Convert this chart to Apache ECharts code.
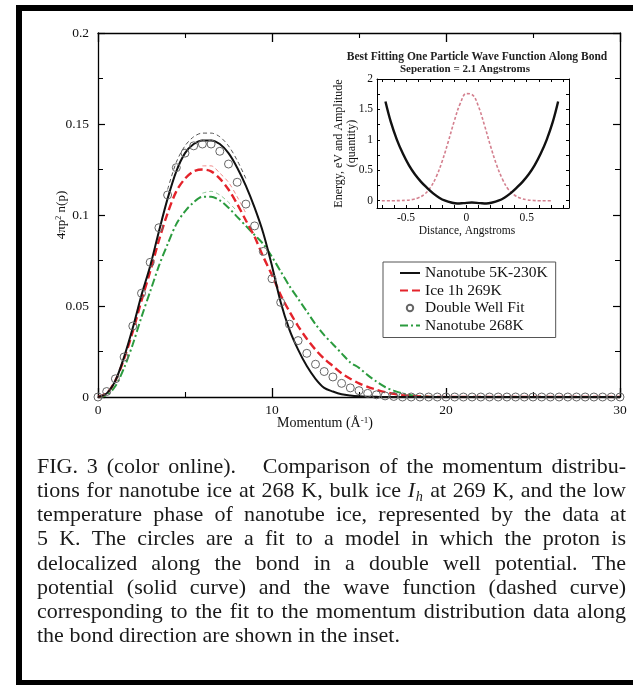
<!DOCTYPE html>
<html><head><meta charset="utf-8">
<script src="https://cdn.jsdelivr.net/npm/echarts@6/dist/echarts.min.js"></script>
<style>html,body{margin:0;padding:0;background:#fff}#c{width:633px;height:685px}</style>
</head><body><div id="c"></div><script>
// ---------- main plot data ----------
const momentum = [
  0,0.5,1,1.5,2,2.5,3,3.5,4,4.5,
  5,5.5,6,6.5,7,7.5,8,8.5,9,9.5,
  10,10.5,11,11.5,12,12.5,13,13.5,14,14.5,
  15,15.5,16,16.5,17,17.5,18,18.5,19,19.5,
  20,20.5,21,21.5,22,22.5,23,23.5,24,24.5,
  25,25.5,26,26.5,27,27.5,28,28.5,29,29.5,
  30];
const nanotubeLow = [
  0,0.002,0.009,0.022,0.038,0.056,0.072,0.091,0.109,0.124,
  0.134,0.139,0.141,0.141,0.139,0.134,0.126,0.116,0.104,0.090,
  0.072,0.052,0.037,0.026,0.017,0.010,0.005,0.003,0.0015,0.0008,
  0.0004,0.0002,0.0001,0,0,0,0,0,0,0,
  0,0,0,0,0,0,0,0,0,0,
  0,0,0,0,0,0,0,0,0,0,
  0];
const doubleWellFit = [
  0,0.003,0.010,0.022,0.039,0.057,0.074,0.093,0.111,0.126,
  0.134,0.138,0.139,0.139,0.135,0.128,0.118,0.106,0.094,0.080,
  0.065,0.052,0.040,0.031,0.024,0.018,0.014,0.011,0.0075,0.005,
  0.0035,0.002,0.0012,0.0006,0.0003,0,0,0,0,0,
  0,0,0,0,0,0,0,0,0,0,
  0,0,0,0,0,0,0,0,0,0,
  0];
const iceIh = [
  0,0.002,0.009,0.021,0.036,0.053,0.069,0.086,0.101,0.113,
  0.120,0.124,0.125,0.124,0.120,0.114,0.106,0.097,0.088,0.077,
  0.067,0.056,0.047,0.039,0.032,0.026,0.021,0.017,0.013,0.010,
  0.0075,0.0055,0.004,0.0027,0.0017,0.001,0.0006,0.0003,0.0001,0,
  0,0,0,0,0,0,0,0,0,0,
  0,0,0,0,0,0,0,0,0,0,
  0];
const nanotube268 = [
  0,0.001,0.006,0.016,0.029,0.044,0.058,0.072,0.084,0.095,
  0.102,0.107,0.110,0.110,0.108,0.104,0.099,0.094,0.089,0.084,
  0.077,0.069,0.061,0.054,0.047,0.040,0.034,0.029,0.024,0.019,
  0.016,0.012,0.0085,0.0055,0.0035,0.002,0.001,0.0005,0.0002,0,
  0,0,0,0,0,0,0,0,0,0,
  0,0,0,0,0,0,0,0,0,0,
  0];
// faint error-band traces near the peaks
const blackBandP = [4,4.5,5,5.5,6,6.5,7,7.5,8,8.5];
const blackBand  = [0.114,0.129,0.138,0.143,0.145,0.145,0.143,0.138,0.130,0.120];
const redBandP   = [6,6.5,7,7.5,8,8.5];
const redBand    = [0.127,0.127,0.123,0.118,0.110,0.101];
const greenBandP = [6,6.5,7,7.5,8];
const greenBand  = [0.112,0.113,0.111,0.107,0.102];

const xTicksMain = [0,10,20,30];
const yTicksMain = [0,0.05,0.1,0.15,0.2];

// ---------- inset data ----------
const potentialX = [-0.67,-0.625,-0.575,-0.525,-0.475,-0.425,-0.375,-0.325,-0.275,-0.225,-0.175,-0.125,-0.075,-0.025,
  0.045,0.115,0.165,0.215,0.265,0.315,0.365,0.415,0.465,0.515,0.565,0.615,0.665,0.715,0.76];
const potentialV = [1.63,1.29,1.0,0.77,0.58,0.43,0.31,0.21,0.12,0.05,0.0,-0.03,-0.045,-0.04,
  -0.03,-0.04,-0.045,-0.03,0.0,0.05,0.12,0.21,0.31,0.43,0.58,0.77,1.0,1.29,1.63];
const waveX = [-0.7,-0.65,-0.6,-0.55,-0.5,-0.45,-0.4,-0.35,-0.3,-0.25,-0.2,-0.15,-0.1,-0.05,0,
  0.05,0.1,0.15,0.2,0.25,0.3,0.35,0.4,0.45,0.5,0.55,0.6,0.65,0.7];
const waveV = [0,0,0,0.002,0.006,0.018,0.045,0.10,0.21,0.39,0.65,0.97,1.31,1.60,1.76,
  1.74,1.55,1.24,0.90,0.59,0.35,0.18,0.09,0.04,0.015,0.005,0,0,0];
const insetXLabels = [-0.5,0,0.5];
const insetXTicks = [-0.7,-0.6,-0.5,-0.4,-0.3,-0.2,-0.1,0,0.1,0.2,0.3,0.4,0.5,0.6,0.7,0.8];
const insetYLabels = [0,0.5,1,1.5,2];
const insetYTicks = [0,0.25,0.5,0.75,1,1.25,1.5,1.75,2];

const legendNames = ['Nanotube 5K-230K','Ice 1h 269K','Double Well Fit','Nanotube 268K'];

const captionLines = [
  'FIG. 3 (color online).   Comparison of the momentum distribu-',
  'tions for nanotube ice at 268 K, bulk ice {Ih} at 269 K, and the low',
  'temperature phase of nanotube ice, represented by the data at',
  '5 K. The circles are a fit to a model in which the proton is',
  'delocalized along the bond in a double well potential. The',
  'potential (solid curve) and the wave function (dashed curve)',
  'corresponding to the fit to the momentum distribution data along',
  'the bond direction are shown in the inset.'
];

// ---------- build ----------
const serif = '"Liberation Serif", "Times New Roman", serif';
const zip = (xs, ys) => xs.map((x, i) => [x, ys[i]]);
const black = '#000';

function frameAxis(extra) {
  return Object.assign({
    type: 'value',
    nameMoveOverlap: false,
    splitLine: {show: false},
    minorSplitLine: {show: false},
    axisLine: {show: true, onZero: false, lineStyle: {color: black, width: 1.3}},
  }, extra);
}

const mainX = frameAxis({
  gridIndex: 0, position: 'bottom', min: 0, max: 30, interval: 10,
  axisTick: {show: true, inside: true, length: 9, lineStyle: {color: black, width: 1.3}},
  minorTick: {show: true, splitNumber: 2, length: 5, lineStyle: {color: black, width: 1.1}},
  axisLabel: {margin: 6, fontFamily: serif, fontSize: 13.5, color: '#111'},
  name: 'Momentum (Å{sup|-1})', nameLocation: 'middle', nameGap: 19,
  nameTextStyle: {fontFamily: serif, fontSize: 14, color: '#111', padding: [0, 68, 0, 0],
    rich: {sup: {fontFamily: serif, fontSize: 9, color: '#111', verticalAlign: 'top'}}}
});
const mainXTop = frameAxis({
  gridIndex: 0, position: 'top', min: 0, max: 30, interval: 10,
  axisTick: {show: true, inside: true, length: 9, lineStyle: {color: black, width: 1.3}},
  minorTick: {show: true, splitNumber: 2, length: 5, lineStyle: {color: black, width: 1.1}},
  axisLabel: {show: false}
});
const mainY = frameAxis({
  gridIndex: 0, position: 'left', min: 0, max: 0.2, interval: 0.05,
  axisTick: {show: true, inside: true, length: 7, lineStyle: {color: black, width: 1.2}},
  minorTick: {show: true, splitNumber: 2, length: 5, lineStyle: {color: black, width: 1}},
  axisLabel: {margin: 9, fontFamily: serif, fontSize: 13.5, color: '#111'},
  name: '4πp{sup|2} n(p)', nameLocation: 'middle', nameGap: 30, nameRotate: 90,
  nameTextStyle: {fontFamily: serif, fontSize: 13, color: '#111',
    rich: {sup: {fontFamily: serif, fontSize: 8, color: '#111', verticalAlign: 'top'}}}
});
const mainYRight = frameAxis({
  gridIndex: 0, position: 'right', min: 0, max: 0.2, interval: 0.05,
  axisTick: {show: true, inside: true, length: 7, lineStyle: {color: black, width: 1.2}},
  minorTick: {show: true, splitNumber: 2, length: 5, lineStyle: {color: black, width: 1}},
  axisLabel: {show: false}
});

const insetX = frameAxis({
  gridIndex: 1, position: 'bottom', min: -0.74, max: 0.85,
  axisLine: {show: true, onZero: false, lineStyle: {color: black, width: 1}},
  axisTick: {show: true, inside: true, length: 3, customValues: insetXTicks, lineStyle: {color: black, width: 1}},
  axisLabel: {customValues: insetXLabels, margin: 4, fontFamily: serif, fontSize: 11.5, color: '#111'},
  name: 'Distance, Angstroms', nameLocation: 'middle', nameGap: 17,
  nameTextStyle: {fontFamily: serif, fontSize: 11.5, color: '#111', padding: [0, 12, 0, 0]}
});
const insetXTop = frameAxis({
  gridIndex: 1, position: 'top', min: -0.74, max: 0.85,
  axisLine: {show: true, onZero: false, lineStyle: {color: black, width: 1}},
  axisTick: {show: true, inside: true, length: 3, customValues: insetXTicks, lineStyle: {color: black, width: 1}},
  axisLabel: {show: false}
});
const insetY = frameAxis({
  gridIndex: 1, position: 'left', min: -0.12, max: 2,
  axisLine: {show: true, onZero: false, lineStyle: {color: black, width: 1}},
  axisTick: {show: true, inside: true, length: 3, customValues: insetYTicks, lineStyle: {color: black, width: 1}},
  axisLabel: {customValues: insetYLabels, margin: 4, fontFamily: serif, fontSize: 11.5, color: '#111'},
  name: 'Energy, eV and Amplitude\n(quantity)', nameLocation: 'middle', nameGap: 19, nameRotate: 90,
  nameTextStyle: {fontFamily: serif, fontSize: 12, lineHeight: 13, color: '#111'}
});
const insetYRight = frameAxis({
  gridIndex: 1, position: 'right', min: -0.12, max: 2,
  axisLine: {show: true, onZero: false, lineStyle: {color: black, width: 1}},
  axisTick: {show: true, inside: true, length: 3, customValues: insetYTicks, lineStyle: {color: black, width: 1}},
  axisLabel: {show: false}
});

function lineSeries(name, xs, ys, style, extra) {
  return Object.assign({
    name, type: 'line', xAxisIndex: 0, yAxisIndex: 0, data: zip(xs, ys),
    symbol: 'none', smooth: 0.3, lineStyle: style, color: style.color,
    animation: false, silent: true
  }, extra || {});
}

const series = [
  lineSeries('bandBlack', blackBandP, blackBand, {color: '#555', width: 1, type: [4, 3]}, {z: 1}),
  lineSeries('bandRed', redBandP, redBand, {color: '#f08a8a', width: 1, type: [4, 3]}, {z: 1}),
  lineSeries('bandGreen', greenBandP, greenBand, {color: '#8cc896', width: 1, type: [4, 3]}, {z: 1}),
  lineSeries(legendNames[3], momentum, nanotube268, {color: '#2b9b3e', width: 2, type: [8, 3, 2, 3]}, {z: 3}),
  lineSeries(legendNames[1], momentum, iceIh, {color: '#e4232b', width: 2.4, type: [8, 4]}, {z: 4}),
  lineSeries(legendNames[0], momentum, nanotubeLow, {color: '#111', width: 2}, {z: 5}),
  {
    name: legendNames[2], type: 'line', xAxisIndex: 0, yAxisIndex: 0,
    data: zip(momentum, doubleWellFit), symbol: 'circle', symbolSize: 8, showAllSymbol: true,
    lineStyle: {opacity: 0, width: 0}, color: '#666',
    itemStyle: {color: 'rgba(255,255,255,0)', borderColor: '#666', borderWidth: 1},
    animation: false, silent: true, z: 6
  },
  {
    name: 'potential', type: 'line', xAxisIndex: 2, yAxisIndex: 2, data: zip(potentialX, potentialV),
    symbol: 'none', smooth: 0.4, lineStyle: {color: '#111', width: 2.4}, animation: false, silent: true, z: 5
  },
  {
    name: 'wave', type: 'line', xAxisIndex: 2, yAxisIndex: 2, data: zip(waveX, waveV),
    symbol: 'none', smooth: 0.4, lineStyle: {color: '#d4808f', width: 1.6, type: [3, 2]}, animation: false, silent: true, z: 4
  }
];

// caption (justified lines)
const CAP_X0 = 37, CAP_X1 = 626, CAP_Y0 = 467, CAP_DY = 24.2, CAP_FS = 22;
const ctx = document.createElement('canvas').getContext('2d');
function fontStr(size, italic) { return (italic ? 'italic ' : '') + size + 'px "Liberation Serif"'; }
function measureWord(w) {
  if (w === '{Ih}') {
    ctx.font = fontStr(CAP_FS, true); const a = ctx.measureText('I').width;
    ctx.font = fontStr(CAP_FS * 0.65, true); const b = ctx.measureText('h').width;
    return a + b + 1;
  }
  ctx.font = fontStr(CAP_FS, false);
  return ctx.measureText(w).width;
}
function capText(text, x, y, size, italic) {
  return {type: 'text', x: x, y: y, silent: true,
    style: {text: text, fontFamily: serif, fontSize: size, fontStyle: italic ? 'italic' : 'normal',
      fill: '#1a1a1a', textAlign: 'left', textVerticalAlign: 'middle', align: 'left', verticalAlign: 'middle'}};
}
const captionEls = [];
captionLines.forEach((line, li) => {
  const parts = line.split(/( +)/);
  const words = [], gaps = [];
  parts.forEach((p, i) => { if (i % 2 === 0) words.push(p); else gaps.push(p.length); });
  const widths = words.map(measureWord);
  const total = widths.reduce((a, b) => a + b, 0);
  const gw = gaps.reduce((a, b) => a + b, 0);
  const last = li === captionLines.length - 1;
  ctx.font = fontStr(CAP_FS, false);
  const unit = last ? ctx.measureText(' ').width : (CAP_X1 - CAP_X0 - total) / gw;
  const y = CAP_Y0 + li * CAP_DY;
  let x = CAP_X0;
  words.forEach((w, i) => {
    if (w === '{Ih}') {
      ctx.font = fontStr(CAP_FS, true); const a = ctx.measureText('I').width;
      captionEls.push(capText('I', x, y, CAP_FS, true));
      captionEls.push(capText('h', x + a + 0.5, y + 6, CAP_FS * 0.65, true));
    } else {
      captionEls.push(capText(w, x, y, CAP_FS, false));
    }
    x += widths[i] + (i < gaps.length ? gaps[i] * unit : 0);
  });
});

const frameEls = [
  {type: 'rect', shape: {x: 16, y: 5, width: 617, height: 6}, style: {fill: '#000'}, silent: true},
  {type: 'rect', shape: {x: 16, y: 5, width: 6, height: 680}, style: {fill: '#000'}, silent: true},
  {type: 'rect', shape: {x: 16, y: 680, width: 617, height: 5}, style: {fill: '#000'}, silent: true}
];
const insetTitleEls = [
  {type: 'text', x: 477, y: 57, silent: true, style: {text: 'Best Fitting One Particle Wave Function Along Bond',
    fontFamily: serif, fontSize: 11.5, fontWeight: 'bold', fill: '#222', textAlign: 'center', textVerticalAlign: 'middle', align: 'center', verticalAlign: 'middle'}},
  {type: 'text', x: 465, y: 69, silent: true, style: {text: 'Seperation = 2.1 Angstroms',
    fontFamily: serif, fontSize: 11, fontWeight: 'bold', fill: '#222', textAlign: 'center', textVerticalAlign: 'middle', align: 'center', verticalAlign: 'middle'}}
];

const chart = echarts.init(document.getElementById('c'), null, {renderer: 'canvas'});
chart.setOption({
  backgroundColor: '#fff',
  animation: false,
  grid: [
    {left: 98, right: 13, top: 33, bottom: 288},
    {left: 377, top: 79, width: 192, height: 129}
  ],
  xAxis: [mainX, mainXTop, insetX, insetXTop],
  yAxis: [mainY, mainYRight, insetY, insetYRight],
  legend: {
    left: 383, top: 262, orient: 'vertical', selectedMode: false,
    itemWidth: 20, itemHeight: 8, itemGap: 1.5,
    padding: [3, 8, 4, 16], borderColor: '#555', borderWidth: 1, backgroundColor: '#fff',
    textStyle: {fontFamily: serif, fontSize: 15.5, color: '#111', lineHeight: 14.5},
    data: [
      {name: legendNames[0], itemStyle: {opacity: 0}},
      {name: legendNames[1], itemStyle: {opacity: 0}},
      {name: legendNames[2], lineStyle: {opacity: 0}},
      {name: legendNames[3], itemStyle: {opacity: 0}}
    ]
  },
  series: series,
  graphic: [].concat(frameEls, insetTitleEls, captionEls)
});
</script></body></html>
